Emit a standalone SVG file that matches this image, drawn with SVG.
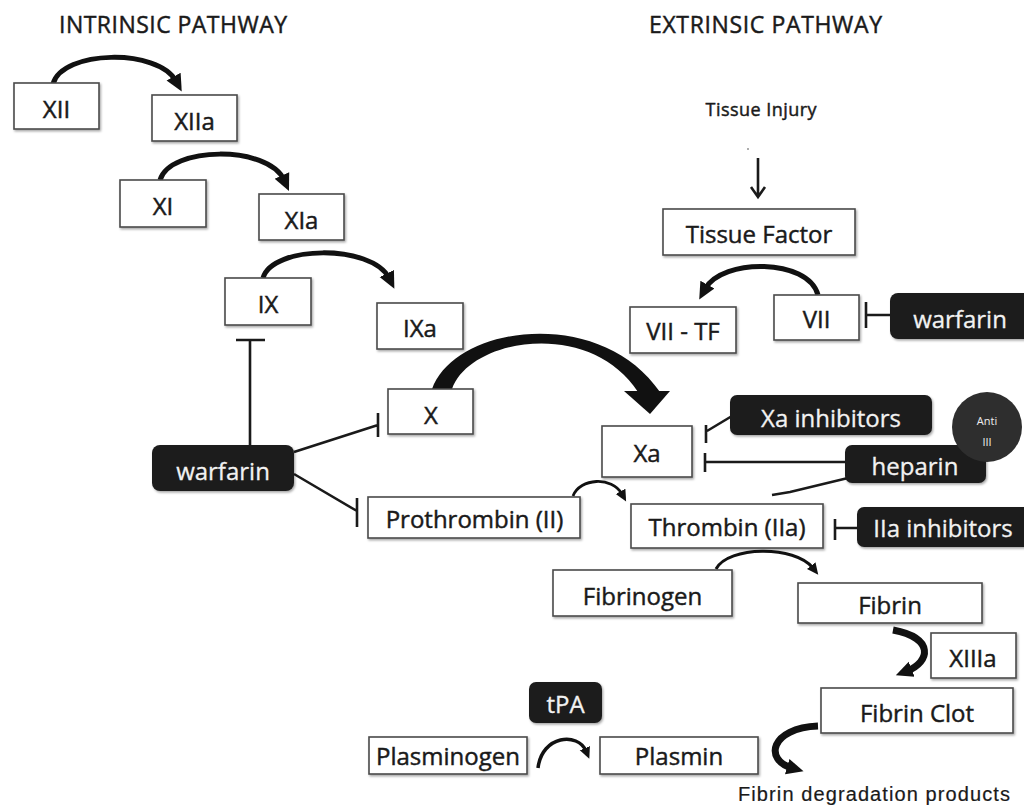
<svg xmlns="http://www.w3.org/2000/svg" width="1024" height="807" viewBox="0 0 1024 807">
<style>
text{font-family:"Open Sans","Liberation Sans",sans-serif;fill:#1a1a1a;stroke:#1a1a1a;stroke-width:0.45}
.box rect{fill:#fff;stroke:#4a4a4a;stroke-width:1.6}
.box text{font-size:24px;text-anchor:middle}
.drug rect{fill:#1c1c1c}
.drug text{font-size:24px;fill:#f2f2f2;stroke:#f2f2f2;stroke-width:0.3;text-anchor:middle}
.title{font-size:23px}
.fdp{font-family:"Liberation Sans",Arial,sans-serif;font-size:20px;stroke-width:0.2}
.arc{fill:none;stroke:#111;stroke-linecap:butt}
.inh{fill:none;stroke:#1a1a1a;stroke-width:2.6}
</style>
<defs>
<filter id="sh" x="-10%" y="-10%" width="130%" height="140%">
<feDropShadow dx="1.2" dy="1.6" stdDeviation="0.9" flood-color="#000" flood-opacity="0.35"/>
</filter>
<marker id="ah" markerUnits="userSpaceOnUse" markerWidth="18" markerHeight="18" viewBox="0 0 18 18" refX="5" refY="9" orient="auto">
<path d="M0,1 L17,9 L0,17 Z" fill="#111"/>
</marker>
<marker id="ahs" markerUnits="userSpaceOnUse" markerWidth="12" markerHeight="12" viewBox="0 0 12 12" refX="3" refY="6" orient="auto">
<path d="M0,0.5 L11.5,6 L0,11.5 Z" fill="#111"/>
</marker>
</defs>
<rect width="1024" height="807" fill="#fff"/>

<text class="title" x="59" y="33" textLength="228">INTRINSIC PATHWAY</text>
<text class="title" x="649" y="33" textLength="233">EXTRINSIC PATHWAY</text>
<text x="761" y="116" font-size="18" text-anchor="middle" textLength="111">Tissue Injury</text>
<text class="fdp" x="738" y="801" textLength="272">Fibrin degradation products</text>

<g id="connectors">
<path class="arc" stroke-width="5" d="M53,84 C62,50 158,48 176,81" marker-end="url(#ah)"/>
<path class="arc" stroke-width="5" d="M160,180 C170,146 268,145 284,180" marker-end="url(#ah)"/>
<path class="arc" stroke-width="5" d="M263,278 C272,245 372,244 389,278" marker-end="url(#ah)"/>
<path class="arc" stroke-width="5" d="M818,295 C808,258 722,258 705,289" marker-end="url(#ah)"/>
<path class="arc" stroke-width="2.8" d="M573,496 C580,478 612,476 622,494" marker-end="url(#ahs)"/>
<path class="arc" stroke-width="3" d="M716,569 C728,546 795,545 813,568" marker-end="url(#ahs)"/>
<path class="arc" stroke-width="3.5" d="M538,768 C542,735 578,732 586,751" marker-end="url(#ahs)"/>
<path class="arc" stroke-width="7" d="M893,630 C935,638 930,662 907,671" marker-end="url(#ah)"/>
<path class="arc" stroke-width="7" d="M818,726 C770,728 764,760 792,768" marker-end="url(#ah)"/>
<path d="M432,389 C455,325 600,305 660,392 L638,392 C590,318 470,338 452,389 Z" fill="#111"/>
<path d="M624,391 L670,391 L650,414 Z" fill="#111"/>
<circle cx="748" cy="149" r="0.8" fill="#444"/>
<path class="inh" stroke-width="2.2" d="M758,158 L758,196 M751,187 L758,197 L765,187"/>
<path class="inh" d="M250,445 L250,340 M236,340 L265,340"/>
<path class="inh" d="M294,452 L378,425 M378,413 L378,437"/>
<path class="inh" d="M294,474 L357,511 M357,498 L357,527"/>
<path class="inh" d="M890,315 L866,315 M866,302 L866,328"/>
<path class="inh" d="M732,416 L707,431 M706,425 L706,443"/>
<path class="inh" d="M845,462 L705,462 M705,453 L705,472"/>
<path class="inh" d="M848,478 L790,492 L772,495"/>
<path class="inh" d="M857,528 L835,528 M835,519 L835,540"/>
</g>

<g id="n-xii" class="box"><rect x="14" y="83" width="85" height="46" filter="url(#sh)"/><text x="56.5" y="118">XII</text></g>
<g id="n-xiia" class="box"><rect x="152" y="95" width="85" height="46" filter="url(#sh)"/><text x="194.5" y="130">XIIa</text></g>
<g id="n-xi" class="box"><rect x="120" y="180" width="86" height="47" filter="url(#sh)"/><text x="163" y="215">XI</text></g>
<g id="n-xia" class="box"><rect x="259" y="194" width="85" height="46" filter="url(#sh)"/><text x="301.5" y="229">XIa</text></g>
<g id="n-ix" class="box"><rect x="225" y="278" width="86" height="47" filter="url(#sh)"/><text x="268" y="313">IX</text></g>
<g id="n-ixa" class="box"><rect x="377" y="303" width="86" height="46" filter="url(#sh)"/><text x="420" y="337">IXa</text></g>
<g id="n-x" class="box"><rect x="388" y="389" width="85" height="45" filter="url(#sh)"/><text x="431" y="424">X</text></g>
<g id="n-xa" class="box"><rect x="602" y="426" width="90" height="51" filter="url(#sh)"/><text x="647" y="462">Xa</text></g>
<g id="n-prothrombin" class="box"><rect x="368" y="497" width="212" height="41" filter="url(#sh)"/><text x="474.5" y="528">Prothrombin (II)</text></g>
<g id="n-thrombin" class="box"><rect x="631" y="504" width="192" height="44" filter="url(#sh)"/><text x="727" y="536">Thrombin (IIa)</text></g>
<g id="n-fibrinogen" class="box"><rect x="553" y="570" width="179" height="46" filter="url(#sh)"/><text x="642.5" y="605">Fibrinogen</text></g>
<g id="n-fibrin" class="box"><rect x="798" y="583" width="184" height="40" filter="url(#sh)"/><text x="890" y="614">Fibrin</text></g>
<g id="n-xiiia" class="box"><rect x="931" y="633" width="85" height="45" filter="url(#sh)"/><text x="973" y="667">XIIIa</text></g>
<g id="n-fibrinclot" class="box"><rect x="821" y="688" width="192" height="45" filter="url(#sh)"/><text x="917" y="722">Fibrin Clot</text></g>
<g id="n-plasminogen" class="box"><rect x="369" y="737" width="158" height="37" filter="url(#sh)"/><text x="448" y="765">Plasminogen</text></g>
<g id="n-plasmin" class="box"><rect x="600" y="737" width="158" height="37" filter="url(#sh)"/><text x="679" y="765">Plasmin</text></g>
<g id="n-tissuefactor" class="box"><rect x="663" y="209" width="192" height="46" filter="url(#sh)"/><text x="759" y="243">Tissue Factor</text></g>
<g id="n-viitf" class="box"><rect x="630" y="307" width="106" height="46" filter="url(#sh)"/><text x="683" y="340">VII - TF</text></g>
<g id="n-vii" class="box"><rect x="774" y="295" width="85" height="45" filter="url(#sh)"/><text x="816.5" y="328">VII</text></g>

<g id="d-warfarin1" class="drug"><rect x="152" y="445" width="142" height="46" rx="8" filter="url(#sh)"/><text x="223" y="480">warfarin</text></g>
<g id="d-warfarin2" class="drug"><rect x="890" y="293" width="150" height="46" rx="8" filter="url(#sh)"/><text x="960" y="328">warfarin</text></g>
<g id="d-xainhib" class="drug"><rect x="730" y="395" width="202" height="40" rx="7" filter="url(#sh)"/><text x="831" y="427">Xa inhibitors</text></g>
<g id="d-heparin" class="drug"><rect x="845" y="445" width="141" height="38" rx="7" filter="url(#sh)"/><text x="915" y="475">heparin</text></g>
<g id="d-antiiii"><circle cx="987" cy="427" r="35" fill="#2e2e2e"/><text x="987" y="425" font-size="11" text-anchor="middle" style="fill:#eee;stroke:none">Anti</text><text x="987" y="446" font-size="11" text-anchor="middle" style="fill:#eee;stroke:none">III</text></g>
<g id="d-iiainhib" class="drug"><rect x="857" y="507" width="185" height="40" rx="7" filter="url(#sh)"/><text x="943" y="537">IIa inhibitors</text></g>
<g id="d-tpa" class="drug"><rect x="529" y="682" width="73" height="41" rx="7" filter="url(#sh)"/><text x="565.5" y="713">tPA</text></g>
</svg>
